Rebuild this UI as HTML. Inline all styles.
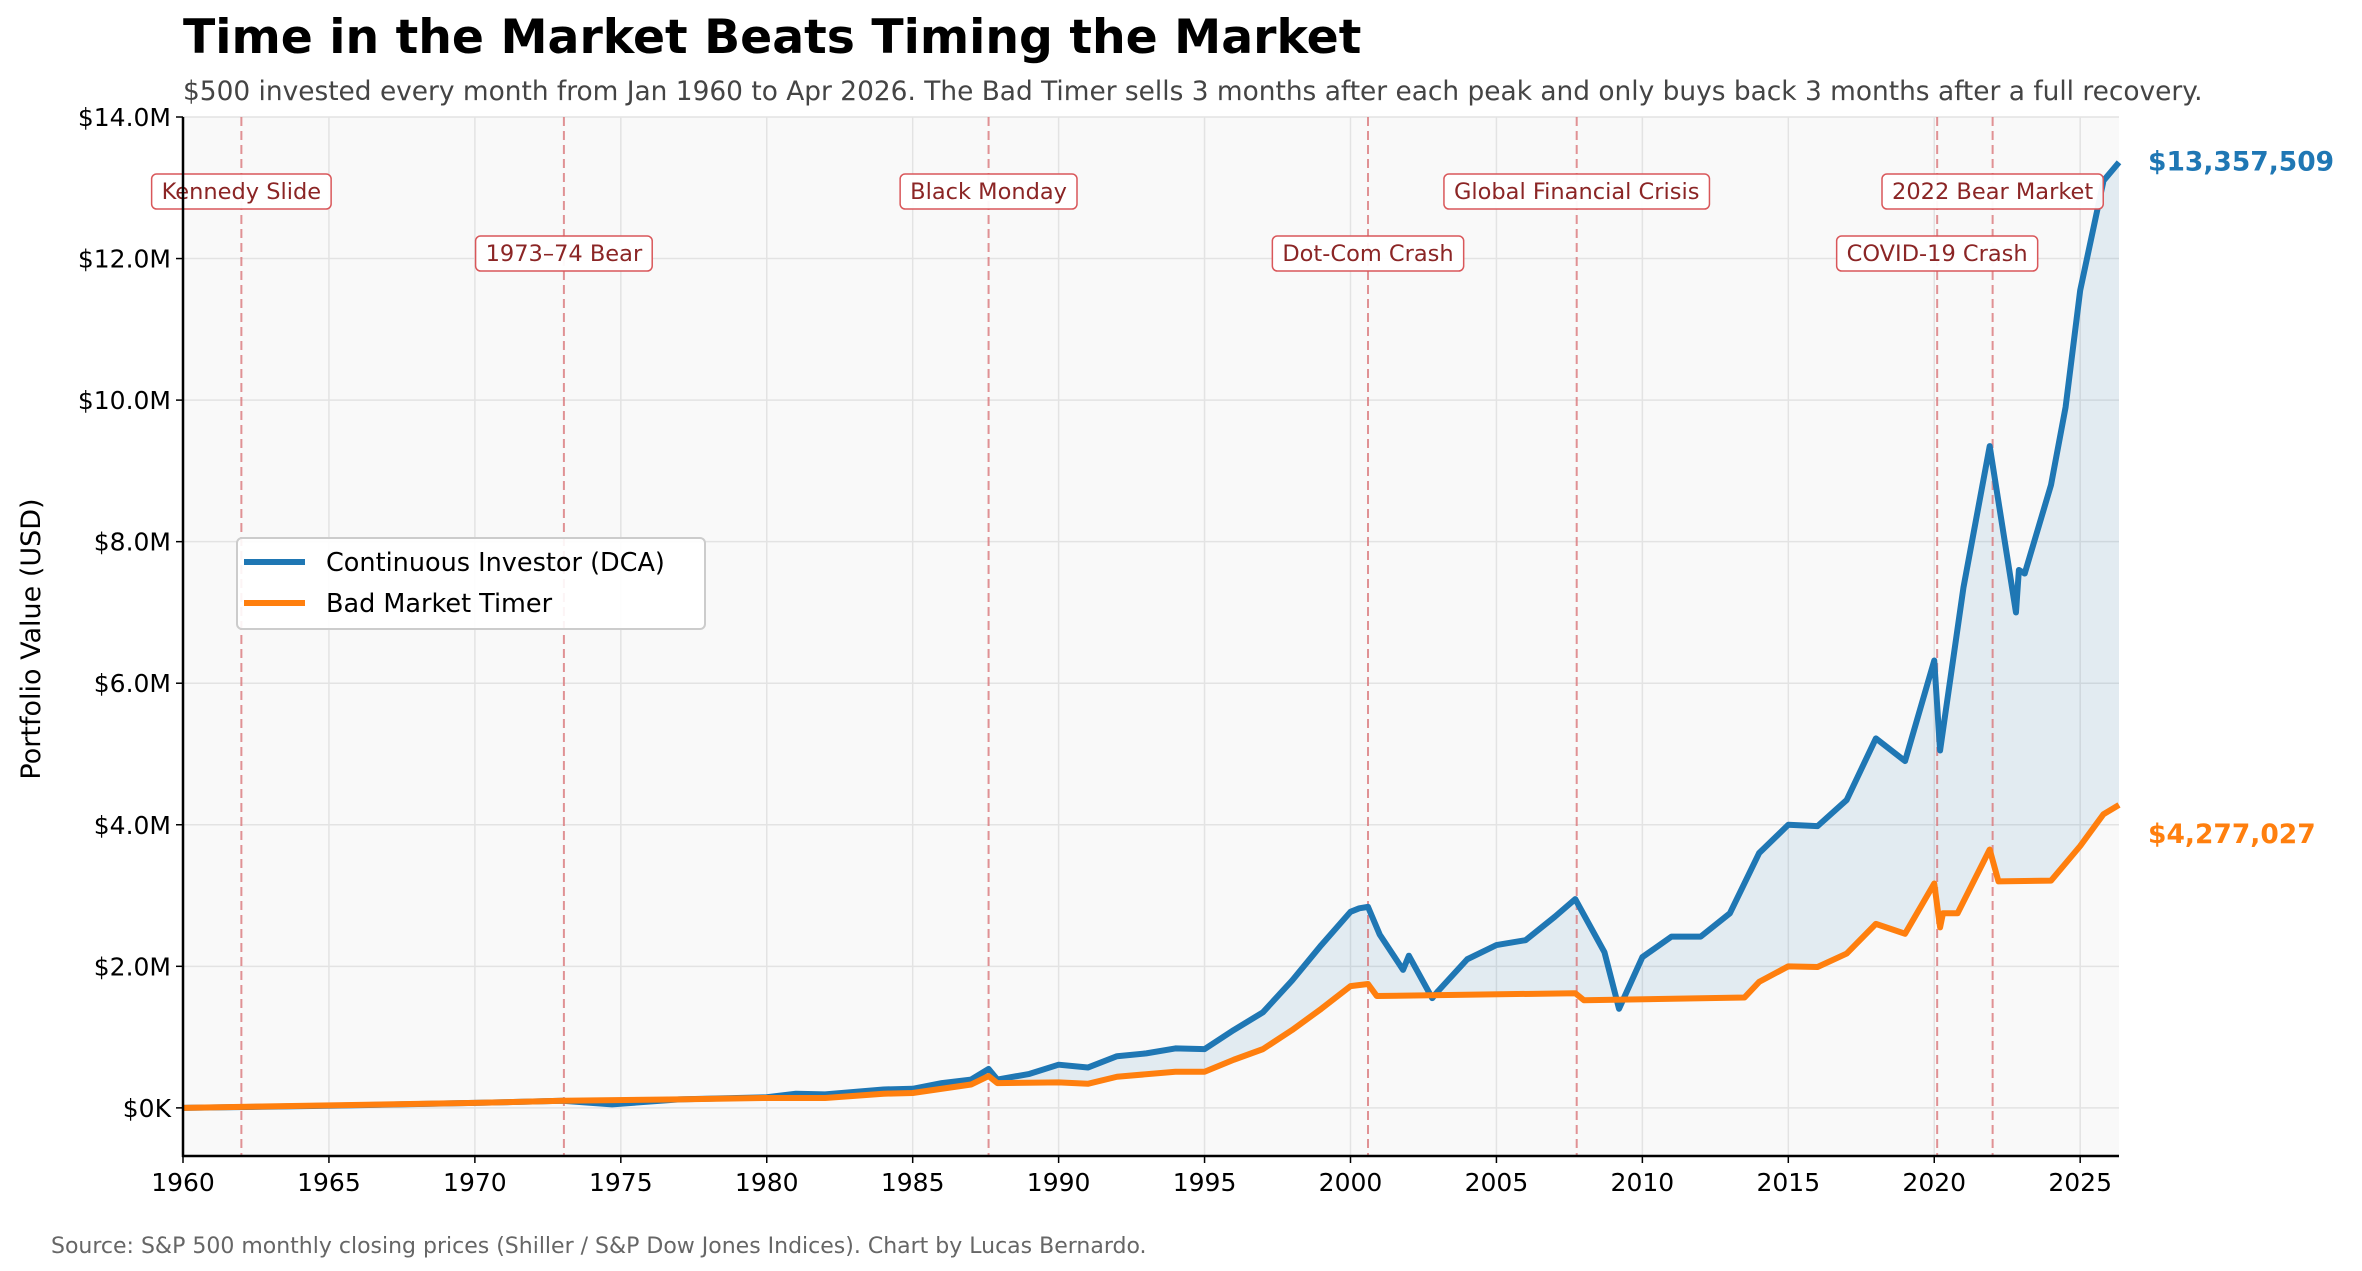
<!DOCTYPE html>
<html><head><meta charset="utf-8">
<style>
html,body{margin:0;padding:0;background:#fff;}
svg{display:block;font-family:"DejaVu Sans","Liberation Sans",sans-serif;}
</style></head>
<body>
<svg id="chart" width="2362" height="1271" viewBox="0 0 2362 1271" xmlns="http://www.w3.org/2000/svg">
<rect width="2362" height="1271" fill="#ffffff"/>
<text x="183" y="53" font-size="47.3" font-weight="bold" fill="#000">Time in the Market Beats Timing the Market</text>
<text x="183" y="100" font-size="26.4" fill="#444">$500 invested every month from Jan 1960 to Apr 2026. The Bad Timer sells 3 months after each peak and only buys back 3 months after a full recovery.</text>
<g id="plot"></g>
<text transform="translate(40,639) rotate(-90)" text-anchor="middle" font-size="27" fill="#000">Portfolio Value (USD)</text>
<text x="51" y="1253" font-size="22" fill="#666">Source: S&amp;P 500 monthly closing prices (Shiller / S&amp;P Dow Jones Indices). Chart by Lucas Bernardo.</text>
</svg>
<script>
const dcaYears = [1960,1965,1970,1973,1974.7,1977,1980,1981,1982,1984,1985,1986,1987,1987.6,1987.9,1989,1990,1991,1992,1993,1994,1995,1996,1997,1998,1999,2000,2000.3,2000.6,2001,2001.8,2002,2002.8,2003,2004,2005,2006,2007,2007.7,2008.7,2009.2,2010,2011,2012,2013,2014,2015,2016,2017,2018,2019,2020,2020.2,2021,2021.9,2022.8,2022.9,2023.1,2024,2024.5,2025,2025.8,2026.33];
const dcaValues = [0,0.03,0.07,0.1,0.05,0.12,0.15,0.2,0.19,0.26,0.27,0.35,0.4,0.55,0.4,0.48,0.61,0.57,0.73,0.77,0.84,0.83,1.1,1.35,1.8,2.3,2.77,2.82,2.84,2.45,1.95,2.15,1.55,1.65,2.1,2.3,2.37,2.7,2.95,2.2,1.4,2.13,2.42,2.42,2.75,3.6,4.0,3.98,4.35,5.22,4.9,6.32,5.05,7.35,9.35,7.0,7.6,7.55,8.8,9.9,11.55,13.1,13.36];
const timerYears = [1960,1970,1973,1977,1980,1982,1984,1985,1987,1987.6,1987.9,1990,1991,1992,1994,1995,1996,1997,1998,1999,2000,2000.6,2000.9,2007.7,2008,2013.5,2014,2015,2016,2017,2018,2019,2020,2020.2,2020.3,2020.8,2021.9,2022.2,2024,2025,2025.8,2026.33];
const timerValues = [0,0.07,0.1,0.12,0.14,0.14,0.2,0.21,0.33,0.45,0.35,0.36,0.34,0.44,0.51,0.51,0.68,0.83,1.1,1.4,1.72,1.75,1.58,1.62,1.52,1.56,1.78,2.0,1.99,2.18,2.6,2.46,3.17,2.55,2.75,2.75,3.65,3.2,3.21,3.7,4.15,4.28];
const crashYears = [1962,1973.05,1987.6,2000.6,2007.75,2020.1,2022.0];
const crashNames = ["Kennedy Slide","1973–74 Bear","Black Monday","Dot-Com Crash","Global Financial Crisis","COVID-19 Crash","2022 Bear Market"];
const crashRow = [0,1,0,1,0,1,0];
const xTicks = [1960,1965,1970,1975,1980,1985,1990,1995,2000,2005,2010,2015,2020,2025];
const yTicks = [0,2,4,6,8,10,12,14];
const yTickLabels = ["$0K","$2.0M","$4.0M","$6.0M","$8.0M","$10.0M","$12.0M","$14.0M"];
const finalLabels = ["$13,357,509","$4,277,027"];

const L=183,R=2119,T=117,B=1156;
const xMin=1960,xMax=2026.33,yMin=-0.68,yMax=14;
const X=v=>L+(v-xMin)/(xMax-xMin)*(R-L);
const Y=v=>B-(v-yMin)/(yMax-yMin)*(B-T);
const NS="http://www.w3.org/2000/svg";
const plot=document.getElementById('plot');
function mk(tag,attrs,parent){const e=document.createElementNS(NS,tag);for(const k in attrs)e.setAttribute(k,attrs[k]);(parent||plot).appendChild(e);return e;}

const bg=mk('rect',{x:L,y:T,width:R-L,height:B-T,fill:'#f9f9f9'});



xTicks.forEach(t=>{
  const g=mk('line',{x1:X(t),x2:X(t),y1:T,y2:B,stroke:'#e3e3e3','stroke-width':1.5});
  
  
  const tk=mk('line',{x1:X(t),x2:X(t),y1:B,y2:B+7,stroke:'#000','stroke-width':1.5});
  
  
  const tx=mk('text',{x:X(t),y:B+35,'text-anchor':'middle','font-size':25,fill:'#000'});
  tx.textContent=t;
  
  
});
yTicks.forEach((t,i)=>{
  const g=mk('line',{x1:L,x2:R,y1:Y(t),y2:Y(t),stroke:'#e3e3e3','stroke-width':1.5});
  
  
  const tk=mk('line',{x1:L-7,x2:L,y1:Y(t),y2:Y(t),stroke:'#000','stroke-width':1.5});
  
  
  const tx=mk('text',{x:L-12,y:Y(t)+9,'text-anchor':'end','font-size':25,fill:'#000'});
  tx.textContent=yTickLabels[i];
  
  
});

const topPts=dcaYears.map((x,i)=>X(x)+','+Y(dcaValues[i]));
const botPts=[];
for(let i=timerYears.length-1;i>=0;i--) botPts.push(X(timerYears[i])+','+Y(timerValues[i]));
const fill=mk('polygon',{points:topPts.concat(botPts).join(' '),fill:'#1f77b4','fill-opacity':0.1});



crashYears.forEach((c,i)=>{
  const ln=mk('line',{x1:X(c),x2:X(c),y1:T,y2:B,stroke:'#d9777a','stroke-width':2,'stroke-dasharray':'9,5','stroke-opacity':0.8});
  
  
});

const dca=mk('polyline',{points:topPts.join(' '),fill:'none',stroke:'#1f77b4','stroke-width':6,'stroke-linejoin':'round'});


const tim=mk('polyline',{points:timerYears.map((x,i)=>X(x)+','+Y(timerValues[i])).join(' '),fill:'none',stroke:'#ff7f0e','stroke-width':6,'stroke-linejoin':'round'});



crashYears.forEach((c,i)=>{
  const cy=crashRow[i]?253:191;
  const tx=mk('text',{x:X(c),y:cy+8,'text-anchor':'middle','font-size':22.5,fill:'#8b2525'});
  tx.textContent=crashNames[i];
  
  
  const w=tx.getComputedTextLength()+20;
  const bx=mk('rect',{x:X(c)-w/2,y:cy-17,width:w,height:35,rx:5,fill:'#fff',stroke:'#d9575a','stroke-width':1.5,'fill-opacity':0.95});
  
  
  plot.appendChild(tx);
});

const ax1=mk('line',{x1:L,x2:L,y1:T,y2:B+1,stroke:'#000','stroke-width':2.5});


const ax2=mk('line',{x1:L-1,x2:R,y1:B,y2:B,stroke:'#000','stroke-width':2.5});



const f1=mk('text',{x:2148,y:Y(dcaValues[dcaValues.length-1])+8,'font-size':26.5,'font-weight':'bold',fill:'#1f77b4'});
f1.textContent=finalLabels[0];


const f2=mk('text',{x:2148,y:843,'font-size':26.5,'font-weight':'bold',fill:'#ff7f0e'});
f2.textContent=finalLabels[1];



const lg=mk('g',{});


mk('rect',{x:237,y:538,width:468,height:91,rx:5,fill:'#fff','fill-opacity':0.9,stroke:'#cccccc','stroke-width':2},lg);
const l1=mk('line',{x1:244,x2:305,y1:562,y2:562,stroke:'#1f77b4','stroke-width':6},lg);


const t1=mk('text',{x:326,y:571,'font-size':25.5,fill:'#000'},lg);
t1.textContent='Continuous Investor (DCA)';


const l2=mk('line',{x1:244,x2:305,y1:603,y2:603,stroke:'#ff7f0e','stroke-width':6},lg);


const t2=mk('text',{x:326,y:612,'font-size':25.5,fill:'#000'},lg);
t2.textContent='Bad Market Timer';


</script>
</body></html>
